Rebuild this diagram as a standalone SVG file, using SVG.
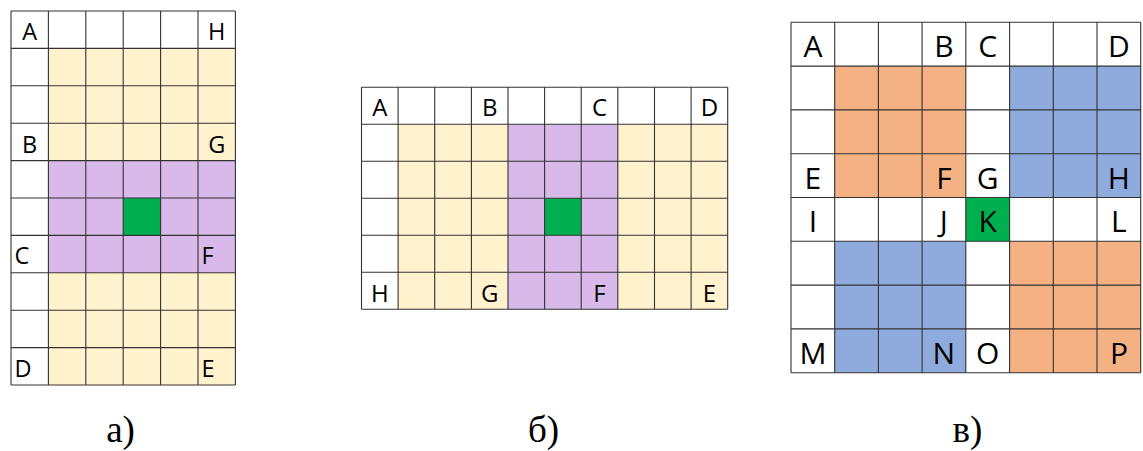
<svg xmlns="http://www.w3.org/2000/svg" width="1143" height="451" viewBox="0 0 1143 451">
<style>
.y{fill:#FFF2CC}.p{fill:#D9B9E9}.g{fill:#00B050}.o{fill:#F4B183}.b{fill:#8FAADC}
.grid{fill:none;stroke:#333;stroke-width:1.1}
.l{font-family:"Open Sans","Liberation Sans",sans-serif;fill:#000}
.la{font-size:23.5px}.lb{font-size:24px}.lc{font-size:30px}
.m{text-anchor:middle}
.cap{font-family:"Liberation Serif",serif;font-size:37px;text-anchor:middle;fill:#000}
</style>
<rect width="1143" height="451" fill="#fff"/>

<g id="grid-a">
  <rect class="y" x="48.4" y="48.4" width="187" height="112.2"/>
  <rect class="p" x="48.4" y="160.6" width="187" height="112.2"/>
  <rect class="y" x="48.4" y="272.8" width="187" height="112.2"/>
  <rect class="g" x="123.2" y="198" width="37.4" height="37.4"/>
  <path class="grid" d="M11 11V385M48.4 11V385M85.8 11V385M123.2 11V385M160.6 11V385M198 11V385M235.4 11V385
    M11 11H235.4M11 48.4H235.4M11 85.8H235.4M11 123.2H235.4M11 160.6H235.4M11 198H235.4M11 235.4H235.4M11 272.8H235.4M11 310.2H235.4M11 347.6H235.4M11 385H235.4"/>
  <g class="l la">
    <text class="m" x="29.7" y="40.3">A</text>
    <text class="m" x="216.7" y="40.3">H</text>
    <text class="m" x="29.7" y="152.5">B</text>
    <text class="m" x="216.7" y="152.5">G</text>
    <text x="14.5" y="264">C</text>
    <text x="201.5" y="264">F</text>
    <text x="14.5" y="376.5">D</text>
    <text x="201.5" y="376.5">E</text>
  </g>
</g>

<g id="grid-b">
  <rect class="y" x="398.1" y="124.3" width="109.9" height="185"/>
  <rect class="p" x="508" y="124.3" width="109.8" height="185"/>
  <rect class="y" x="617.8" y="124.3" width="109.9" height="185"/>
  <rect class="g" x="544.6" y="198.3" width="36.6" height="37"/>
  <path class="grid" d="M361.5 87.3V309.3M398.1 87.3V309.3M434.7 87.3V309.3M471.4 87.3V309.3M508 87.3V309.3M544.6 87.3V309.3M581.2 87.3V309.3M617.8 87.3V309.3M654.5 87.3V309.3M691.1 87.3V309.3M727.7 87.3V309.3
    M361.5 87.3H727.7M361.5 124.3H727.7M361.5 161.3H727.7M361.5 198.3H727.7M361.5 235.3H727.7M361.5 272.3H727.7M361.5 309.3H727.7"/>
  <g class="l lb m">
    <text x="379.8" y="116.3">A</text>
    <text x="489.7" y="116.3">B</text>
    <text x="599.5" y="116.3">C</text>
    <text x="709.4" y="116.3">D</text>
    <text x="379.8" y="301.5">H</text>
    <text x="489.7" y="301.5">G</text>
    <text x="599.5" y="301.5">F</text>
    <text x="709.4" y="301.5">E</text>
  </g>
</g>

<g id="grid-c">
  <rect class="o" x="834.7" y="66.1" width="131.1" height="131.4"/>
  <rect class="b" x="1009.6" y="66.1" width="131.1" height="131.4"/>
  <rect class="b" x="834.7" y="241.3" width="131.1" height="131.4"/>
  <rect class="o" x="1009.6" y="241.3" width="131.1" height="131.4"/>
  <rect class="g" x="965.8" y="197.5" width="43.8" height="43.8"/>
  <path class="grid" d="M791 22.3V372.7M834.7 22.3V372.7M878.4 22.3V372.7M922.1 22.3V372.7M965.8 22.3V372.7M1009.6 22.3V372.7M1053.3 22.3V372.7M1097 22.3V372.7M1140.7 22.3V372.7
    M791 22.3H1140.7M791 66.1H1140.7M791 109.9H1140.7M791 153.7H1140.7M791 197.5H1140.7M791 241.3H1140.7M791 285.1H1140.7M791 328.9H1140.7M791 372.7H1140.7"/>
  <g class="l lc m">
    <text x="812.9" y="57.3">A</text>
    <text x="943.9" y="57.3">B</text>
    <text x="987.7" y="57.3">C</text>
    <text x="1118.9" y="57.3">D</text>
    <text x="812.9" y="188.5">E</text>
    <text x="943.9" y="188.5">F</text>
    <text x="987.7" y="188.5">G</text>
    <text x="1118.9" y="188.5">H</text>
    <text x="812.9" y="232.3">I</text>
    <text x="943.9" y="232.3">J</text>
    <text x="987.7" y="232.3">K</text>
    <text x="1118.9" y="232.3">L</text>
    <text x="812.9" y="363.6">M</text>
    <text x="943.9" y="363.6">N</text>
    <text x="987.7" y="363.6">O</text>
    <text x="1118.9" y="363.6">P</text>
  </g>
</g>

<g id="captions">
  <text class="cap" x="120.5" y="442">а)</text>
  <text class="cap" x="543.5" y="442">б)</text>
  <text class="cap" x="967.5" y="442">в)</text>
</g>
</svg>
